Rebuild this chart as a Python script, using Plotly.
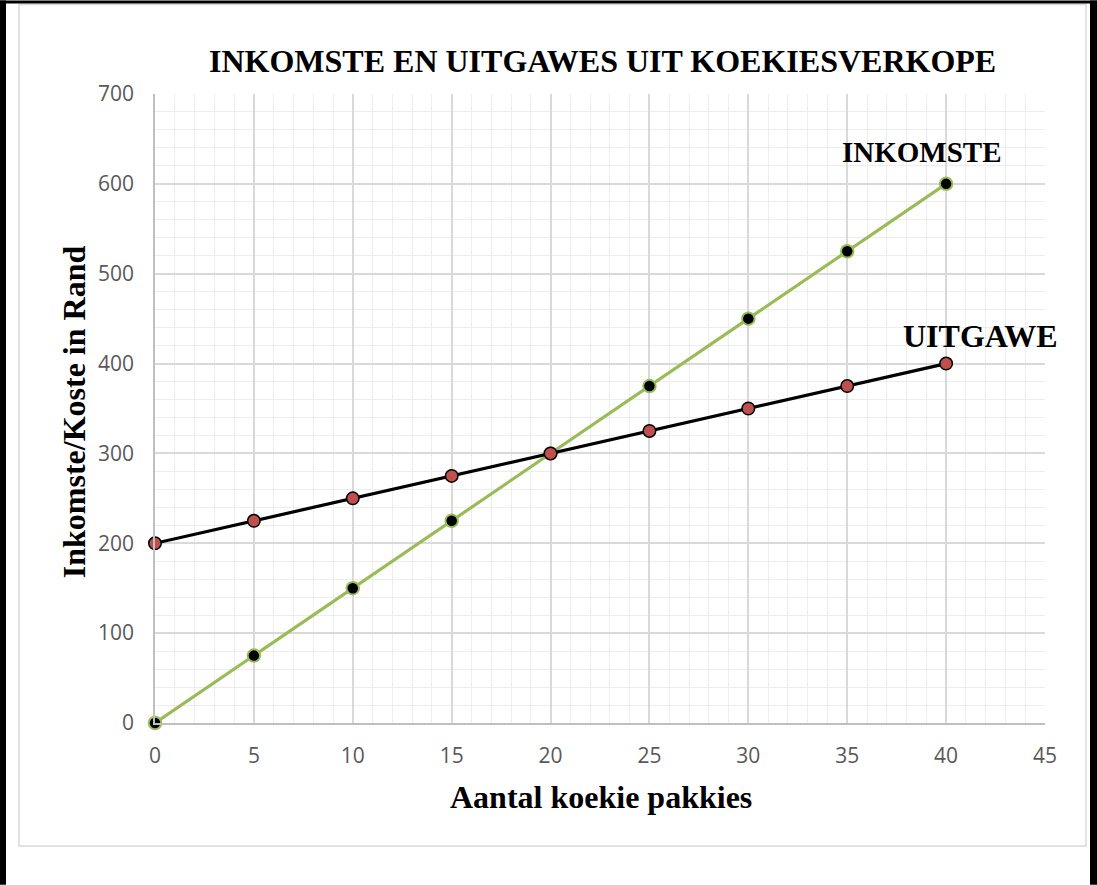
import plotly.graph_objects as go

pakkies = [0, 5, 10, 15, 20, 25, 30, 35, 40]
inkomste = [0, 75, 150, 225, 300, 375, 450, 525, 600]
uitgawe = [200, 225, 250, 275, 300, 325, 350, 375, 400]

title_text = "INKOMSTE EN UITGAWES UIT KOEKIESVERKOPE"
x_title = "Aantal koekie pakkies"
y_title = "Inkomste/Koste in Rand"

W, H = 1097, 885
L, R, T, B = 155, 1045, 93.5, 723


def px(X):
    return (X - L) / (R - L)


def py(Y):
    return (B - Y) / (B - T)


serif = "Liberation Serif"
fig = go.Figure()
fig.add_trace(go.Scatter(
    x=pakkies, y=inkomste, mode="lines+markers", name="INKOMSTE",
    line=dict(color="#9bbb59", width=3.2),
    marker=dict(color="black", size=12.5, line=dict(color="#9bbb59", width=2)),
    cliponaxis=False,
))
fig.add_trace(go.Scatter(
    x=pakkies, y=uitgawe, mode="lines+markers", name="UITGAWE",
    line=dict(color="black", width=3.2),
    marker=dict(color="#c0504d", size=12.5, line=dict(color="black", width=1.5)),
    cliponaxis=False,
))

shapes = [
    # inner light border
    dict(type="rect", xref="paper", yref="paper",
         x0=px(19), x1=px(1086), y0=py(846), y1=py(4),
         line=dict(color="#d9d9d9", width=1.5), layer="below"),
    # outer black border (left, top, right)
    dict(type="line", xref="paper", yref="paper",
         x0=px(3), x1=px(3), y0=py(885), y1=py(0),
         line=dict(color="black", width=6)),
    dict(type="line", xref="paper", yref="paper",
         x0=px(0), x1=px(1097), y0=py(1.5), y1=py(1.5),
         line=dict(color="black", width=3)),
    dict(type="line", xref="paper", yref="paper",
         x0=px(1093.5), x1=px(1093.5), y0=py(885), y1=py(0),
         line=dict(color="black", width=7)),
]

annotations = [
    dict(text="<b>INKOMSTE</b>", x=38.78, y=636, xref="x", yref="y",
         showarrow=False, font=dict(family=serif, size=29, color="black"),
         xanchor="center", yanchor="middle"),
    dict(text="<b>UITGAWE</b>", x=41.76, y=430.5, xref="x", yref="y",
         showarrow=False, font=dict(family=serif, size=32, color="black"),
         xanchor="center", yanchor="middle"),
    dict(text="<b>" + title_text + "</b>", x=px(602), y=py(60), xref="paper", yref="paper",
         showarrow=False, font=dict(family=serif, size=32, color="black"),
         xanchor="center", yanchor="middle"),
    dict(text="<b>" + x_title + "</b>", x=px(601), y=py(797), xref="paper", yref="paper",
         showarrow=False, font=dict(family=serif, size=32, color="black"),
         xanchor="center", yanchor="middle"),
    dict(text="<b>" + y_title + "</b>", x=px(74), y=py(412), xref="paper", yref="paper",
         showarrow=False, textangle=-90, font=dict(family=serif, size=32, color="black"),
         xanchor="center", yanchor="middle"),
]

fig.update_layout(
    width=W, height=H,
    margin=dict(l=L, r=W - R, t=T, b=H - B, pad=0),
    paper_bgcolor="white", plot_bgcolor="white",
    showlegend=False,
    shapes=shapes,
    annotations=annotations,
    font=dict(family="Open Sans", size=21, color="#595959"),
)
fig.update_xaxes(
    range=[0, 45], dtick=5, tick0=0, showgrid=True, gridcolor="#d9d9d9", gridwidth=1.5,
    minor=dict(dtick=1, showgrid=True, gridcolor="#ededed", gridwidth=1.3),
    showline=True, linecolor="#bfbfbf", linewidth=1.5, zeroline=False,
    ticks="", ticklabelstandoff=13,
    tickfont=dict(family="Open Sans", size=21, color="#595959"),
)
fig.update_yaxes(
    range=[0, 700], dtick=100, tick0=0, showgrid=True, gridcolor="#d9d9d9", gridwidth=1.5,
    minor=dict(dtick=20, showgrid=True, gridcolor="#ededed", gridwidth=1.3),
    showline=True, linecolor="#bfbfbf", linewidth=1.5, zeroline=False,
    ticks="", ticklabelstandoff=15,
    tickfont=dict(family="Open Sans", size=21, color="#595959"),
)

fig.write_html("out.html", config={"displayModeBar": False},
               post_script="document.body.style.margin='0';document.body.style.overflow='hidden';")
